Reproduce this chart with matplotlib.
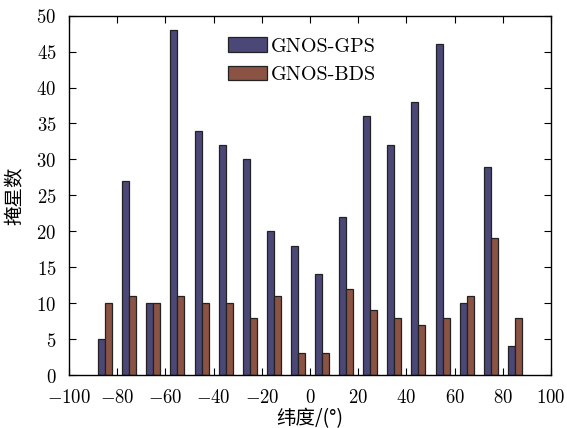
import matplotlib
matplotlib.use("Agg")
import matplotlib.pyplot as plt
import numpy as np

plt.rcParams['mathtext.fontset'] = 'cm'

lat_centers = [-85, -75, -65, -55, -45, -35, -25, -15, -5, 5, 15, 25, 35, 45, 55, 65, 75, 85]
gps_counts = [5, 27, 10, 48, 34, 32, 30, 20, 18, 14, 22, 36, 32, 38, 46, 10, 29, 4]
bds_counts = [10, 11, 10, 11, 10, 10, 8, 11, 3, 3, 12, 9, 8, 7, 8, 11, 19, 8]
x_ticks = [-100, -80, -60, -40, -20, 0, 20, 40, 60, 80, 100]
y_ticks = [0, 5, 10, 15, 20, 25, 30, 35, 40, 45, 50]
series_names = ['GNOS-GPS', 'GNOS-BDS']

fig = plt.figure(figsize=(5.67, 4.28), dpi=100)
ax = fig.add_axes([0.1217, 0.1238, 0.8501, 0.8395])

w = 2.9
x = np.array(lat_centers, dtype=float)
ax.bar(x - w / 2, gps_counts, width=w, color='#4b4878', edgecolor='#222222', linewidth=0.9, label=series_names[0])
ax.bar(x + w / 2, bds_counts, width=w, color='#8b5343', edgecolor='#222222', linewidth=0.9, label=series_names[1])

ax.set_xlim(-100, 100)
ax.set_ylim(0, 50)
ax.set_xticks(x_ticks)
ax.set_xticklabels([f'${v}$' for v in x_ticks], fontsize=13.5)
ax.set_yticks(y_ticks)
ax.set_yticklabels([f'${v}$' for v in y_ticks], fontsize=13.5)
ax.tick_params(axis='x', direction='in', top=True, length=5, width=0.8, pad=9)
ax.tick_params(axis='y', direction='in', right=True, length=5, width=0.8, pad=9)
for s in ax.spines.values():
    s.set_linewidth(1.0)

ax.set_xlabel('纬度/(°)', family=['Noto Sans CJK SC', 'DejaVu Sans'], fontsize=14, labelpad=1)
ax.set_ylabel('掩星数', family=['Noto Sans CJK SC', 'DejaVu Sans'], fontsize=14, labelpad=8)

leg = ax.legend(loc='upper left', bbox_to_anchor=(0.293, 0.99), frameon=False,
                prop={'family': 'cmr10', 'size': 14.5}, handlelength=1.9, handleheight=0.7,
                handletextpad=0.2, labelspacing=0.5)

fig.savefig('out.png', dpi=100)
